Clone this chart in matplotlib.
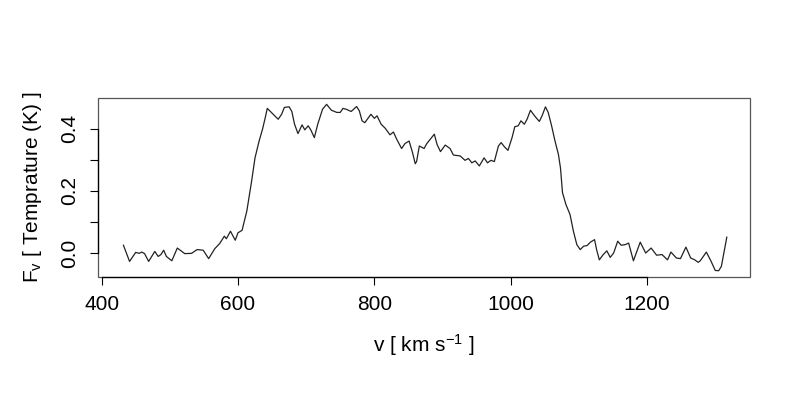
import matplotlib
matplotlib.use("Agg")
import matplotlib.pyplot as plt
from matplotlib.patches import Rectangle

plt.rcParams['font.family'] = ['Liberation Sans', 'DejaVu Sans']
plt.rcParams['mathtext.fontset'] = 'custom'
plt.rcParams['mathtext.rm'] = 'Liberation Sans'
plt.rcParams['mathtext.it'] = 'Liberation Sans:italic'

# velocity (km/s) and temperature (K)
velocity = [432, 441, 450, 455, 459, 463, 469, 478, 483, 487, 491, 495, 503, 511,
            522, 532, 540, 549, 557, 566, 573, 580, 583, 589,
            596, 600, 606, 613, 620, 625, 631, 636, 640, 643, 649, 659, 664, 668,
            675, 679, 683, 688, 694, 698, 703, 707, 712, 717, 724, 730, 737, 745, 750,
            754, 759, 766, 774, 778, 782, 786, 795, 800, 804, 810, 816, 823, 828,
            833, 840, 845, 851, 856, 860, 862, 866, 873, 877, 888, 892, 897, 904, 911,
            916, 926, 933, 938, 943, 948, 954, 961, 966, 971, 976, 982, 986, 991,
            996, 1002, 1006, 1011, 1015, 1020, 1024, 1029, 1035, 1042, 1046, 1051,
            1055, 1060, 1065, 1070,
            1073, 1076, 1081, 1087, 1092, 1097, 1102, 1107, 1112, 1117, 1123, 1126,
            1130, 1135, 1141, 1146, 1151, 1157, 1162, 1168, 1173, 1180, 1185, 1190,
            1198, 1206, 1214, 1222, 1230, 1235, 1243, 1249, 1257, 1264, 1270, 1275,
            1278, 1287, 1294, 1300, 1305, 1309, 1317]
temperature = [0.025, -0.027, 0.002, -0.001, 0.003, -0.002, -0.027, 0.005, -0.011,
               -0.005, 0.009, -0.011, -0.025, 0.016, -0.002, -0.001, 0.011, 0.009,
               -0.018, 0.014, 0.030, 0.054, 0.046, 0.070,
               0.041, 0.065, 0.073, 0.135, 0.231, 0.306, 0.360, 0.398, 0.435, 0.465,
               0.452, 0.430, 0.446, 0.468, 0.470, 0.455, 0.414, 0.384, 0.412, 0.396,
               0.409, 0.395, 0.371, 0.414, 0.462, 0.478, 0.459, 0.452, 0.452,
               0.465, 0.462, 0.455, 0.471, 0.457, 0.425, 0.419, 0.446, 0.433, 0.441,
               0.414, 0.401, 0.380, 0.389, 0.365, 0.336, 0.352, 0.360, 0.323, 0.287,
               0.294, 0.344, 0.336, 0.352, 0.382, 0.349, 0.326, 0.347, 0.336,
               0.315, 0.312, 0.298, 0.304, 0.290, 0.296, 0.280, 0.306, 0.290, 0.298,
               0.294, 0.344, 0.355, 0.341, 0.330, 0.371, 0.406, 0.409, 0.425, 0.414,
               0.430, 0.459, 0.441, 0.423, 0.441, 0.470, 0.452, 0.409, 0.360, 0.317,
               0.274, 0.194, 0.156, 0.124, 0.070, 0.027, 0.011, 0.022, 0.024, 0.035,
               0.043, 0.011, -0.022, -0.007, 0.007, -0.014, 0.000, 0.038, 0.025,
               0.027, 0.032, -0.025, 0.005, 0.035,
               0.000, 0.016, -0.007, -0.005, -0.022, 0.003, -0.016, -0.018, 0.019,
               -0.016, -0.022, -0.030, -0.025, 0.003, -0.027, -0.056, -0.057, -0.043,
               0.051]

x_ticks = [400, 600, 800, 1000, 1200]
y_ticks = [0.0, 0.1, 0.2, 0.3, 0.4]
y_labels = ["0.0", "", "0.2", "", "0.4"]

fig = plt.figure(figsize=(8, 4), dpi=100)
ax = fig.add_axes([0.1219, 0.3068, 0.8156, 0.4487])
ax.plot(velocity, temperature, color='#222222', linewidth=0.9)

ax.set_xlim(394, 1351)
ax.set_ylim(-0.078, 0.499)
ax.set_xticks(x_ticks)
ax.set_yticks(y_ticks)
ax.set_yticklabels(y_labels, rotation=90, va='center')
ax.tick_params(axis='both', direction='out', length=5.5, width=0.8,
               labelsize=15, color='black')
ax.tick_params(axis='x', pad=7)
ax.tick_params(axis='y', pad=8)

# R style: axis lines only span the ticks, a lighter box around the plot
for side in ['top', 'right']:
    ax.spines[side].set_visible(False)
ax.spines['bottom'].set_bounds(x_ticks[0], x_ticks[-1])
ax.spines['left'].set_bounds(y_ticks[0], y_ticks[-1])
ax.spines['bottom'].set_linewidth(0.9)
ax.spines['left'].set_linewidth(0.9)
ax.add_patch(Rectangle((0, 0), 1, 1, transform=ax.transAxes, fill=False,
                       edgecolor='#555555', linewidth=0.9, clip_on=False))

ax.set_xlabel(r'v [ km s$^{-1}$ ]', fontsize=15, labelpad=13.5)
ax.set_ylabel(r'F$_\mathrm{v}$ [ Temprature (K) ]', fontsize=15, labelpad=11)

fig.savefig('out.png', dpi=100)
